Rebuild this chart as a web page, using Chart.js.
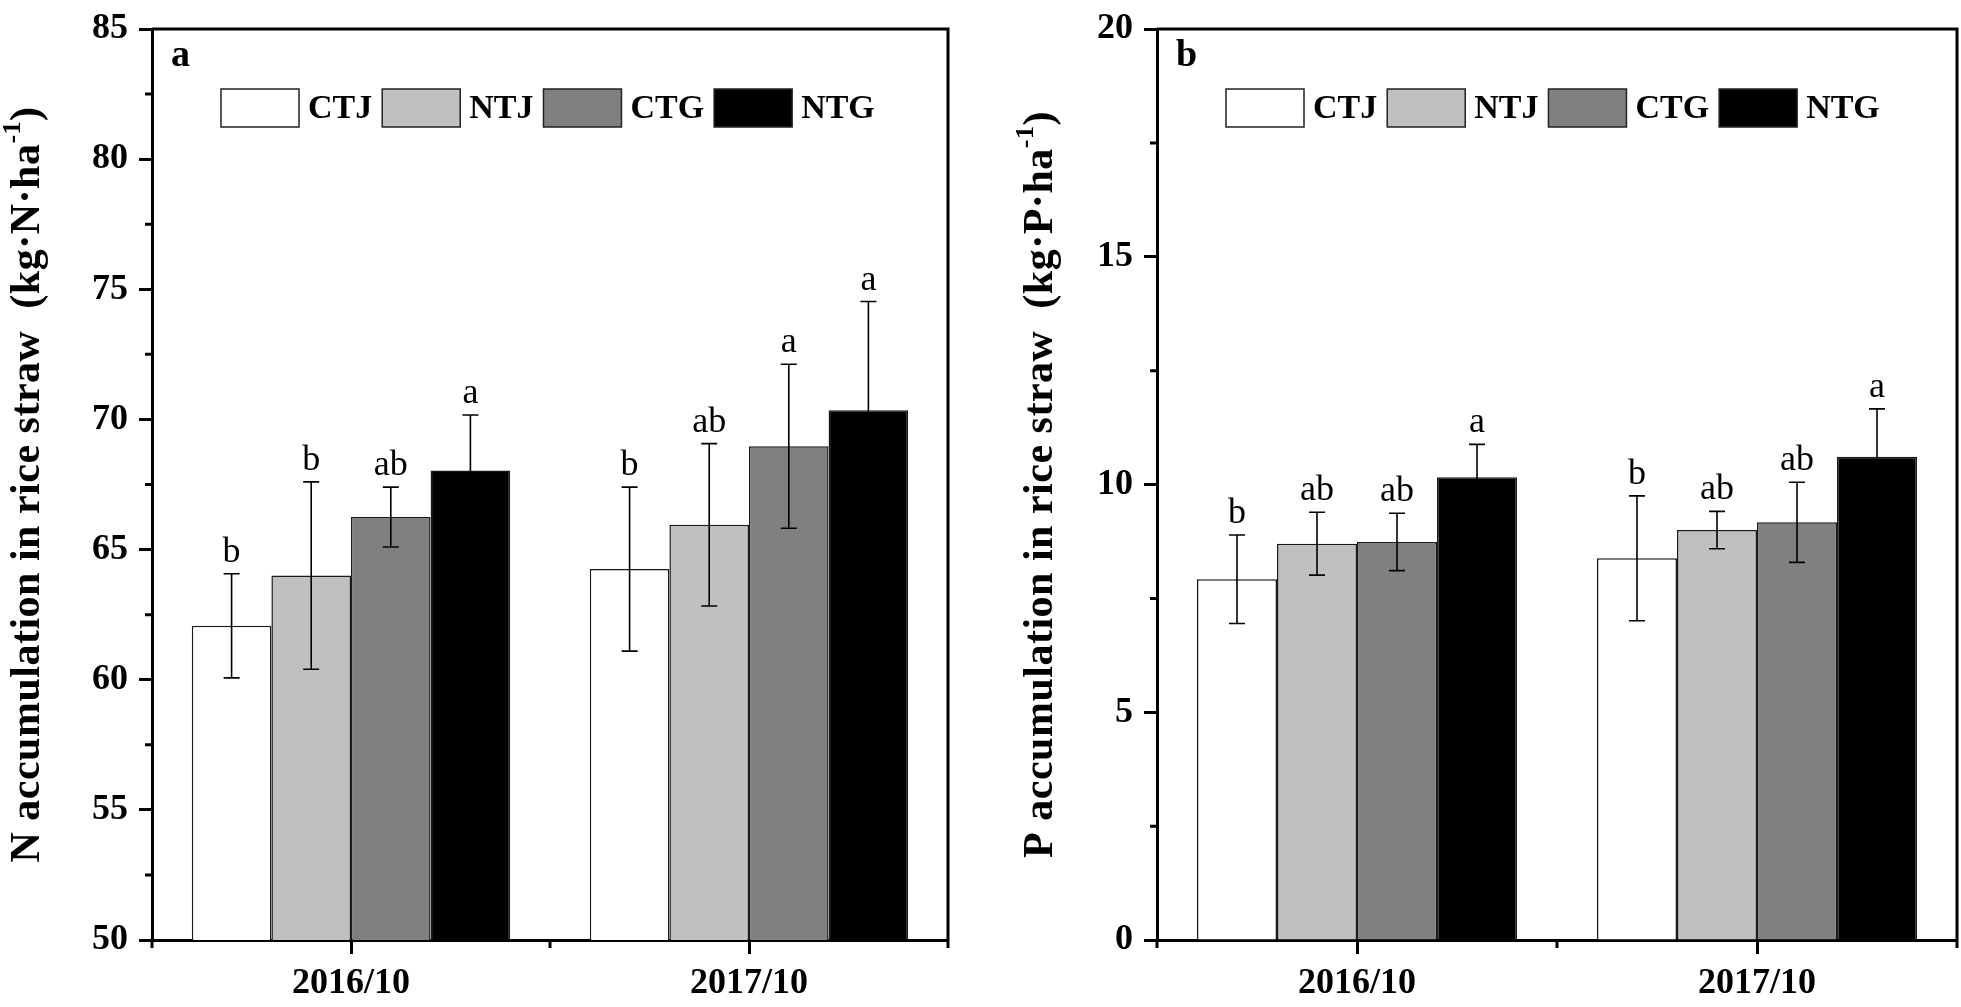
<!DOCTYPE html>
<html>
<head>
<meta charset="utf-8">
<script src="https://cdn.jsdelivr.net/npm/chart.js@4.4.0/dist/chart.umd.min.js"></script>
<style>
  html, body { margin: 0; padding: 0; background: #fff; }
  #wrap { position: relative; width: 1961px; height: 1007px; }
  .panel { position: absolute; top: 0; }
  #panelA { left: 0; }
  #panelB { left: 980px; }
</style>
</head>
<body>
<div id="wrap">
  <div class="panel" id="panelA"><canvas id="chartA" width="980" height="1007"></canvas></div>
  <div class="panel" id="panelB"><canvas id="chartB" width="981" height="1007"></canvas></div>
</div>
<script>
// ---- data ----
const dates = ["2016/10", "2017/10"];
const treatments = ["CTJ", "NTJ", "CTG", "NTG"];
const fills = ["#ffffff", "#c0c0c0", "#808080", "#000000"];

// (a) N accumulation, kg N/ha
const nCTJ = [62.07, 64.25];
const nNTJ = [64.0, 65.95];
const nCTG = [66.25, 68.97];
const nNTG = [68.04, 70.35];
const nErrCTJ = [2.0, 3.15];
const nErrNTJ = [3.6, 3.12];
const nErrCTG = [1.15, 3.15];
const nErrNTG = [2.13, 4.18];
const nLetCTJ = ["b", "b"];
const nLetNTJ = ["b", "ab"];
const nLetCTG = ["ab", "a"];
const nLetNTG = ["a", "a"];
const nTicks = [50, 55, 60, 65, 70, 75, 80, 85];

// (b) P accumulation, kg P/ha
const pCTJ = [7.92, 8.38];
const pNTJ = [8.70, 9.00];
const pCTG = [8.74, 9.17];
const pNTG = [10.16, 10.61];
const pErrCTJ = [0.97, 1.37];
const pErrNTJ = [0.69, 0.41];
const pErrCTG = [0.63, 0.88];
const pErrNTG = [0.72, 1.05];
const pLetCTJ = ["b", "b"];
const pLetNTJ = ["ab", "ab"];
const pLetCTG = ["ab", "ab"];
const pLetNTG = ["a", "a"];
const pTicks = [0, 5, 10, 15, 20];

const SERIF = '"Liberation Serif", "Times New Roman", serif';

// error bars + significance letters
const errorBars = {
  id: "errorBars",
  afterDatasetsDraw(chart) {
    const ctx = chart.ctx;
    const y = chart.scales.y;
    ctx.save();
    ctx.strokeStyle = "#000";
    ctx.fillStyle = "#000";
    ctx.lineWidth = 1.6;
    ctx.font = "36px " + SERIF;
    ctx.textAlign = "center";
    ctx.textBaseline = "alphabetic";
    chart.data.datasets.forEach((ds, i) => {
      chart.getDatasetMeta(i).data.forEach((bar, j) => {
        const top = y.getPixelForValue(ds.data[j] + ds.errors[j]);
        const bot = y.getPixelForValue(ds.data[j] - ds.errors[j]);
        ctx.beginPath();
        ctx.moveTo(bar.x, top); ctx.lineTo(bar.x, bot);
        ctx.moveTo(bar.x - 8, top); ctx.lineTo(bar.x + 8, top);
        ctx.moveTo(bar.x - 8, bot); ctx.lineTo(bar.x + 8, bot);
        ctx.stroke();
        ctx.fillText(ds.letters[j], bar.x, top - 12);
      });
    });
    ctx.restore();
  }
};

// frame, minor ticks, legend, panel letter, axis title
const decorations = {
  id: "decorations",
  afterDraw(chart, args, opts) {
    const ctx = chart.ctx;
    const ca = chart.chartArea;
    const x = chart.scales.x, y = chart.scales.y;
    ctx.save();
    ctx.strokeStyle = "#000";
    ctx.lineWidth = 3;
    ctx.beginPath();
    ctx.moveTo(ca.left, ca.top); ctx.lineTo(ca.right, ca.top); ctx.lineTo(ca.right, ca.bottom);
    ctx.stroke();

    // minor ticks
    ctx.beginPath();
    const major = opts.ticks;
    for (let k = 0; k < major.length - 1; k++) {
      const py = y.getPixelForValue((major[k] + major[k + 1]) / 2);
      ctx.moveTo(ca.left, py); ctx.lineTo(ca.left - 7, py);
    }
    const half = (x.getPixelForValue(1) - x.getPixelForValue(0)) / 2;
    for (let k = 0; k <= dates.length; k++) {
      const px = x.getPixelForValue(k) - half;
      ctx.moveTo(px, ca.bottom); ctx.lineTo(px, ca.bottom + 8);
    }
    ctx.stroke();

    // legend
    ctx.font = "bold 34px " + SERIF;
    ctx.textBaseline = "middle";
    ctx.textAlign = "left";
    let lx = ca.left + 69;
    const ly = ca.top + 60;
    chart.data.datasets.forEach(ds => {
      ctx.fillStyle = ds.backgroundColor;
      ctx.fillRect(lx, ly, 78, 38);
      ctx.lineWidth = 1.5;
      ctx.strokeStyle = "#222";
      ctx.strokeRect(lx, ly, 78, 38);
      ctx.fillStyle = "#000";
      ctx.fillText(ds.label, lx + 87, ly + 20);
      lx += 87 + ctx.measureText(ds.label).width + 10;
    });

    // panel letter
    ctx.font = "bold 38px " + SERIF;
    ctx.textBaseline = "alphabetic";
    ctx.fillText(opts.letter, ca.left + 19, ca.top + 37);

    // y-axis title with superscript
    ctx.translate(opts.titleX, (ca.top + ca.bottom) / 2);
    ctx.rotate(-Math.PI / 2);
    const mainFont = "bold 42px " + SERIF;
    const supFont = "bold 26px " + SERIF;
    ctx.letterSpacing = "0.5px";
    ctx.font = mainFont;
    const w1 = ctx.measureText(opts.title).width;
    const w3 = ctx.measureText(")").width;
    ctx.font = supFont;
    const w2 = ctx.measureText("-1").width;
    let tx = -(w1 + w2 + w3) / 2;
    ctx.textBaseline = "middle";
    ctx.font = mainFont;
    ctx.fillText(opts.title, tx, 0);
    tx += w1;
    ctx.font = supFont;
    ctx.fillText("-1", tx, -15);
    tx += w2;
    ctx.font = mainFont;
    ctx.fillText(")", tx, 0);
    ctx.restore();
  }
};

function makeChart(id, means, errs, lets, ticks, yWidth, padRight, extra) {
  const datasets = treatments.map((t, i) => ({
    label: t,
    data: means[i],
    errors: errs[i],
    letters: lets[i],
    backgroundColor: fills[i],
    borderColor: "#1a1a1a",
    borderWidth: 1.5,
    categoryPercentage: 0.8,
    barPercentage: 1.0
  }));
  return new Chart(document.getElementById(id), {
    type: "bar",
    data: { labels: dates, datasets },
    options: {
      responsive: false,
      animation: false,
      devicePixelRatio: 1,
      layout: { padding: { left: 0, right: padRight, top: 20, bottom: 0 } },
      plugins: {
        legend: { display: false },
        tooltip: { enabled: false },
        decorations: Object.assign({ ticks }, extra)
      },
      scales: {
        x: {
          offset: true,
          grid: { display: true, drawOnChartArea: false, offset: false, tickLength: 14, tickWidth: 3, tickColor: "#000" },
          border: { display: true, color: "#000", width: 3 },
          ticks: { color: "#000", padding: 12, font: { family: SERIF, size: 36, weight: "bold", lineHeight: 1 } },
          afterFit(s) { s.height = 67; }
        },
        y: {
          min: ticks[0],
          max: ticks[ticks.length - 1],
          afterBuildTicks(s) { s.ticks = ticks.map(v => ({ value: v })); },
          grid: { display: true, drawOnChartArea: false, tickLength: 13, tickWidth: 3, tickColor: "#000" },
          border: { display: true, color: "#000", width: 3 },
          ticks: { color: "#000", padding: 11, font: { family: SERIF, size: 36, weight: "bold", lineHeight: 1 } },
          afterFit(s) { s.width = yWidth; }
        }
      }
    },
    plugins: [errorBars, decorations]
  });
}

makeChart("chartA",
  [nCTJ, nNTJ, nCTG, nNTG],
  [nErrCTJ, nErrNTJ, nErrCTG, nErrNTG],
  [nLetCTJ, nLetNTJ, nLetCTG, nLetNTG],
  nTicks, 152, 32,
  { letter: "a", titleX: 28, title: "N accumulation in rice straw  (kg·N·ha" });

makeChart("chartB",
  [pCTJ, pNTJ, pCTG, pNTG],
  [pErrCTJ, pErrNTJ, pErrCTG, pErrNTG],
  [pLetCTJ, pLetNTJ, pLetCTG, pLetNTG],
  pTicks, 177, 4,
  { letter: "b", titleX: 61, title: "P accumulation in rice straw  (kg·P·ha" });
</script>
</body>
</html>
